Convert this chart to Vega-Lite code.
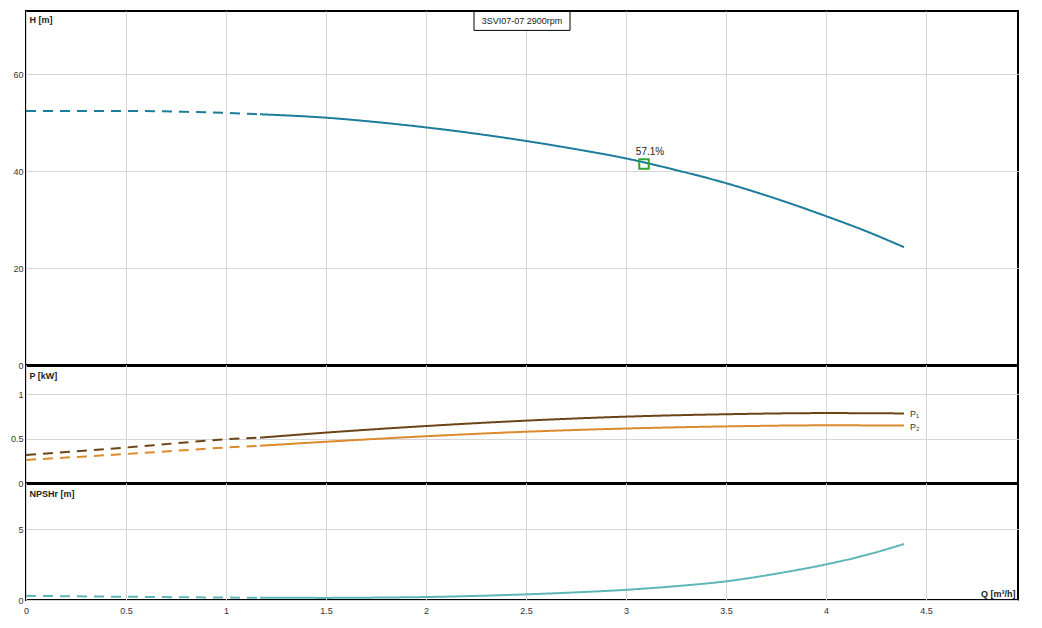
{
  "$schema": "https://vega.github.io/schema/vega-lite/v6.json",
  "background": "white",
  "padding": {"left": 9, "top": 9, "right": 5, "bottom": 5},
  "spacing": 0,
  "bounds": "flush",
  "config": {
    "font": "Liberation Sans",
    "view": {"stroke": "black", "strokeWidth": 2},
    "axis": {
      "gridColor": "#d6d6d6",
      "gridWidth": 1,
      "labelFont": "Liberation Sans",
      "labelFontSize": 9,
      "labelColor": "#333333",
      "labelPadding": 3,
      "labelFlush": false,
      "ticks": false,
      "domain": false,
      "format": "~r",
      "titleFont": "Liberation Sans",
      "titleFontSize": 9,
      "titleFontWeight": "bold",
      "titleColor": "#222222"
    },
    "line": {"strokeWidth": 2, "interpolate": "monotone"}
  },
  "datasets": {
    "head": [
      {"Q": 0, "H": 52.4, "seg": "ext"},
      {"Q": 0.25, "H": 52.4, "seg": "ext"},
      {"Q": 0.5, "H": 52.4, "seg": "ext"},
      {"Q": 0.75, "H": 52.25, "seg": "ext"},
      {"Q": 1.0, "H": 52.0, "seg": "ext"},
      {"Q": 1.17, "H": 51.7, "seg": "ext"},
      {"Q": 1.17, "H": 51.7, "seg": "op"},
      {"Q": 1.5, "H": 51.0, "seg": "op"},
      {"Q": 1.75, "H": 50.1, "seg": "op"},
      {"Q": 2.0, "H": 49.0, "seg": "op"},
      {"Q": 2.25, "H": 47.7, "seg": "op"},
      {"Q": 2.5, "H": 46.2, "seg": "op"},
      {"Q": 2.75, "H": 44.5, "seg": "op"},
      {"Q": 3.0, "H": 42.6, "seg": "op"},
      {"Q": 3.25, "H": 40.2, "seg": "op"},
      {"Q": 3.5, "H": 37.5, "seg": "op"},
      {"Q": 3.75, "H": 34.3, "seg": "op"},
      {"Q": 4.0, "H": 30.7, "seg": "op"},
      {"Q": 4.2, "H": 27.6, "seg": "op"},
      {"Q": 4.39, "H": 24.3, "seg": "op"}
    ],
    "power": [
      {"Q": 0, "P": 0.316, "curve": "P1", "seg": "ext"},
      {"Q": 0.25, "P": 0.358, "curve": "P1", "seg": "ext"},
      {"Q": 0.5, "P": 0.4, "curve": "P1", "seg": "ext"},
      {"Q": 0.75, "P": 0.448, "curve": "P1", "seg": "ext"},
      {"Q": 1.0, "P": 0.493, "curve": "P1", "seg": "ext"},
      {"Q": 1.17, "P": 0.511, "curve": "P1", "seg": "ext"},
      {"Q": 1.17, "P": 0.511, "curve": "P1", "seg": "op"},
      {"Q": 1.5, "P": 0.568, "curve": "P1", "seg": "op"},
      {"Q": 2.0, "P": 0.642, "curve": "P1", "seg": "op"},
      {"Q": 2.5, "P": 0.703, "curve": "P1", "seg": "op"},
      {"Q": 3.0, "P": 0.748, "curve": "P1", "seg": "op"},
      {"Q": 3.5, "P": 0.775, "curve": "P1", "seg": "op"},
      {"Q": 4.0, "P": 0.788, "curve": "P1", "seg": "op"},
      {"Q": 4.39, "P": 0.784, "curve": "P1", "seg": "op"},
      {"Q": 0, "P": 0.26, "curve": "P2", "seg": "ext"},
      {"Q": 0.25, "P": 0.293, "curve": "P2", "seg": "ext"},
      {"Q": 0.5, "P": 0.327, "curve": "P2", "seg": "ext"},
      {"Q": 0.75, "P": 0.363, "curve": "P2", "seg": "ext"},
      {"Q": 1.0, "P": 0.4, "curve": "P2", "seg": "ext"},
      {"Q": 1.17, "P": 0.42, "curve": "P2", "seg": "ext"},
      {"Q": 1.17, "P": 0.42, "curve": "P2", "seg": "op"},
      {"Q": 1.5, "P": 0.465, "curve": "P2", "seg": "op"},
      {"Q": 2.0, "P": 0.527, "curve": "P2", "seg": "op"},
      {"Q": 2.5, "P": 0.578, "curve": "P2", "seg": "op"},
      {"Q": 3.0, "P": 0.614, "curve": "P2", "seg": "op"},
      {"Q": 3.5, "P": 0.638, "curve": "P2", "seg": "op"},
      {"Q": 4.0, "P": 0.65, "curve": "P2", "seg": "op"},
      {"Q": 4.39, "P": 0.648, "curve": "P2", "seg": "op"}
    ],
    "powerLabels": [
      {"Q": 4.39, "P": 0.784, "label": "P₁"},
      {"Q": 4.39, "P": 0.648, "label": "P₂"}
    ],
    "npsh": [
      {"Q": 0, "N": 0.3, "seg": "ext"},
      {"Q": 0.25, "N": 0.26, "seg": "ext"},
      {"Q": 0.5, "N": 0.23, "seg": "ext"},
      {"Q": 0.75, "N": 0.2, "seg": "ext"},
      {"Q": 1.0, "N": 0.17, "seg": "ext"},
      {"Q": 1.17, "N": 0.16, "seg": "ext"},
      {"Q": 1.17, "N": 0.16, "seg": "op"},
      {"Q": 1.5, "N": 0.15, "seg": "op"},
      {"Q": 1.75, "N": 0.17, "seg": "op"},
      {"Q": 2.0, "N": 0.21, "seg": "op"},
      {"Q": 2.25, "N": 0.29, "seg": "op"},
      {"Q": 2.5, "N": 0.4, "seg": "op"},
      {"Q": 2.75, "N": 0.54, "seg": "op"},
      {"Q": 3.0, "N": 0.72, "seg": "op"},
      {"Q": 3.25, "N": 0.98, "seg": "op"},
      {"Q": 3.5, "N": 1.32, "seg": "op"},
      {"Q": 3.75, "N": 1.86, "seg": "op"},
      {"Q": 4.0, "N": 2.52, "seg": "op"},
      {"Q": 4.2, "N": 3.18, "seg": "op"},
      {"Q": 4.39, "N": 3.96, "seg": "op"}
    ],
    "titleBox": [
      {"Q": 2.24, "Q2": 2.72, "H": 72.9, "H2": 69.0, "Hm": 70.95, "Qm": 2.48, "label": "3SVI07-07 2900rpm"}
    ],
    "duty": [
      {"Q": 3.09, "H": 41.44, "label": "57.1%"}
    ]
  },
  "vconcat": [
    {
      "width": 992,
      "height": 354,
      "layer": [
        {
          "data": {"name": "head"},
          "mark": {"type": "line", "color": "#1c7c9b"},
          "encoding": {
            "x": {
              "field": "Q", "type": "quantitative",
              "scale": {"domain": [0, 4.96], "nice": false, "zero": false},
              "axis": {"values": [0, 0.5, 1, 1.5, 2, 2.5, 3, 3.5, 4, 4.5], "labels": false, "title": null, "domain": true, "domainColor": "black", "domainWidth": 3}
            },
            "y": {
              "field": "H", "type": "quantitative",
              "scale": {"domain": [0, 73], "nice": false},
              "axis": {"values": [0, 20, 40, 60], "title": "H [m]", "titleAngle": 0, "titleX": 3, "titleY": 11, "titleAlign": "left", "titleBaseline": "alphabetic"}
            },
            "strokeDash": {"field": "seg", "type": "nominal", "scale": {"domain": ["ext", "op"], "range": [[10, 7], [1, 0]]}, "legend": null}
          }
        },
        {
          "data": {"name": "titleBox"},
          "mark": {"type": "rect", "fill": "white", "stroke": "black", "strokeWidth": 1},
          "encoding": {
            "x": {"field": "Q", "type": "quantitative"},
            "x2": {"field": "Q2"},
            "y": {"field": "H", "type": "quantitative"},
            "y2": {"field": "H2"}
          }
        },
        {
          "data": {"name": "titleBox"},
          "mark": {"type": "text", "fontSize": 9, "color": "#222222", "align": "center", "baseline": "middle"},
          "encoding": {
            "x": {"field": "Qm", "type": "quantitative"},
            "y": {"field": "Hm", "type": "quantitative"},
            "text": {"field": "label"}
          }
        },
        {
          "data": {"name": "duty"},
          "mark": {"type": "point", "shape": "square", "size": 90, "filled": false, "stroke": "#2fa52f", "strokeWidth": 2, "opacity": 1},
          "encoding": {
            "x": {"field": "Q", "type": "quantitative"},
            "y": {"field": "H", "type": "quantitative"}
          }
        },
        {
          "data": {"name": "duty"},
          "mark": {"type": "text", "fontSize": 10, "color": "#222222", "align": "center", "baseline": "alphabetic", "dx": 6, "dy": -9},
          "encoding": {
            "x": {"field": "Q", "type": "quantitative"},
            "y": {"field": "H", "type": "quantitative"},
            "text": {"field": "label"}
          }
        }
      ]
    },
    {
      "width": 992,
      "height": 118,
      "layer": [
        {
          "data": {"name": "power"},
          "mark": {"type": "line"},
          "encoding": {
            "x": {
              "field": "Q", "type": "quantitative",
              "scale": {"domain": [0, 4.96], "nice": false, "zero": false},
              "axis": {"values": [0, 0.5, 1, 1.5, 2, 2.5, 3, 3.5, 4, 4.5], "labels": false, "title": null, "domain": true, "domainColor": "black", "domainWidth": 3}
            },
            "y": {
              "field": "P", "type": "quantitative",
              "scale": {"domain": [0, 1.33], "nice": false},
              "axis": {"values": [0, 0.5, 1], "title": "P [kW]", "titleAngle": 0, "titleX": 3, "titleY": 13, "titleAlign": "left", "titleBaseline": "alphabetic"}
            },
            "color": {"field": "curve", "type": "nominal", "scale": {"domain": ["P1", "P2"], "range": ["#6b4517", "#dc8a2c"]}, "legend": null},
            "strokeDash": {"field": "seg", "type": "nominal", "scale": {"domain": ["ext", "op"], "range": [[10, 7], [1, 0]]}, "legend": null}
          }
        },
        {
          "data": {"name": "powerLabels"},
          "mark": {"type": "text", "fontSize": 9, "color": "#333333", "align": "left", "baseline": "middle", "dx": 6, "dy": 1},
          "encoding": {
            "x": {"field": "Q", "type": "quantitative"},
            "y": {"field": "P", "type": "quantitative"},
            "text": {"field": "label"}
          }
        }
      ]
    },
    {
      "width": 992,
      "height": 117,
      "layer": [
        {
          "data": {"name": "npsh"},
          "mark": {"type": "line", "color": "#5fb6b7"},
          "encoding": {
            "x": {
              "field": "Q", "type": "quantitative",
              "scale": {"domain": [0, 4.96], "nice": false, "zero": false},
              "axis": {"values": [0, 0.5, 1, 1.5, 2, 2.5, 3, 3.5, 4, 4.5], "labelPadding": 6, "title": "Q [m³/h]", "titleX": 989, "titleY": -4, "titleAlign": "right", "titleBaseline": "alphabetic"}
            },
            "y": {
              "field": "N", "type": "quantitative",
              "scale": {"domain": [0, 8.28], "nice": false},
              "axis": {"values": [0, 5], "title": "NPSHr [m]", "titleAngle": 0, "titleX": 3, "titleY": 13, "titleAlign": "left", "titleBaseline": "alphabetic"}
            },
            "strokeDash": {"field": "seg", "type": "nominal", "scale": {"domain": ["ext", "op"], "range": [[9, 8], [1, 0]]}, "legend": null}
          }
        }
      ]
    }
  ]
}
